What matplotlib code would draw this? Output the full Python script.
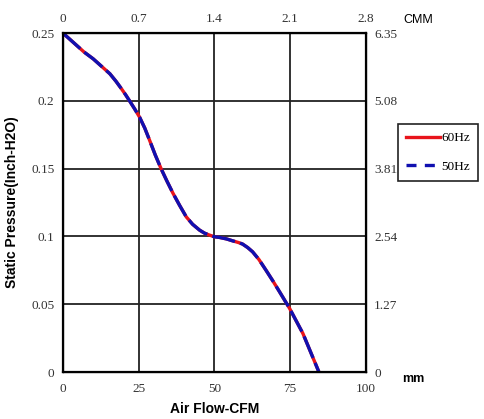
import matplotlib.pyplot as plt
from matplotlib.lines import Line2D

# fan curve (CFM, inch H2O)
cfm = [0, 4.5, 7, 10, 12.5, 15.5, 17.5, 19.3, 20.7, 22, 23.7, 25.3, 27, 28.6,
       30.5, 32.4, 34.3, 36.3, 38.5, 40.7, 42.8, 45.1, 46.7, 48.4, 50, 51.7,
       54, 56.0, 58, 59.3, 61, 62.6, 64.7, 67.0, 69.3, 71.5, 74.8, 79.2, 84.5]
pressure = [0.25, 0.241, 0.236, 0.231, 0.226, 0.220, 0.2145, 0.209, 0.2045,
            0.200, 0.194, 0.188, 0.180, 0.171, 0.160, 0.150, 0.141, 0.132,
            0.123, 0.1145, 0.109, 0.1047, 0.1025, 0.101, 0.0998, 0.0993,
            0.0982, 0.0968, 0.0955, 0.0944, 0.0918, 0.0887, 0.083, 0.0752,
            0.0672, 0.0592, 0.047, 0.0285, 0]

x_ticks = [0, 25, 50, 75, 100]
y_ticks = [0, 0.05, 0.1, 0.15, 0.2, 0.25]
cmm_labels = ['0', '0.7', '1.4', '2.1', '2.8']
mm_labels = ['0', '1.27', '2.54', '3.81', '5.08', '6.35']
y_labels = ['0', '0.05', '0.1', '0.15', '0.2', '0.25']

serif = 'Liberation Serif'
sans = 'Liberation Sans'

fig = plt.figure(figsize=(4.84, 4.19), dpi=100)
ax = fig.add_axes([0.130, 0.112, 0.626, 0.809])

ax.plot(cfm, pressure, color='#e8141b', lw=2.4, solid_capstyle='butt')
ax.plot(cfm, pressure, color='#1010b0', lw=2.4, dashes=(7, 1.6))

ax.set_xlim(0, 100)
ax.set_ylim(0, 0.25)
ax.set_xticks(x_ticks)
ax.set_yticks(y_ticks)
ax.set_xticklabels([str(t) for t in x_ticks], family=serif, fontsize=9.5, color='#333333')
ax.set_yticklabels(y_labels, family=serif, fontsize=9.5, color='#333333')
ax.tick_params(length=0)
ax.tick_params(axis='x', pad=8)
ax.tick_params(axis='y', pad=6)
ax.grid(True, color='#222222', lw=1.3)
for s in ax.spines.values():
    s.set_linewidth(1.6)

ax.set_xlabel('Air Flow-CFM', family=sans, fontweight='bold', fontsize=10, labelpad=5)
ax.set_ylabel('Static Pressure(Inch-H2O)', family=sans, fontweight='bold', fontsize=10, labelpad=9)

top = ax.twiny()
top.set_xlim(0, 2.8)
top.set_xticks([0, 0.7, 1.4, 2.1, 2.8])
top.set_xticklabels(cmm_labels, family=serif, fontsize=9.5, color='#333333')
top.tick_params(length=0, pad=6)

right = ax.twinx()
right.set_ylim(0, 6.35)
right.set_yticks([0, 1.27, 2.54, 3.81, 5.08, 6.35])
right.set_yticklabels(mm_labels, family=serif, fontsize=9.5, color='#333333')
right.tick_params(length=0, pad=6)

fig.text(0.865, 0.953, 'CMM', family=sans, fontsize=9, ha='center', va='center')
fig.text(0.853, 0.095, 'mm', family=sans, fontsize=9, fontweight='bold', ha='center', va='center')

handles = [Line2D([], [], color='#e8141b', lw=2.4),
           Line2D([], [], color='#1010b0', lw=2.4, dashes=(3, 2.5))]
leg = fig.legend(handles, ['60Hz', '50Hz'], loc='upper left',
                 bbox_to_anchor=(0.822, 0.704), prop={'family': serif, 'size': 9.5},
                 fancybox=False, framealpha=1, edgecolor='#222222',
                 handlelength=2.6, handletextpad=0.1, borderpad=0.6,
                 labelspacing=1.25, borderaxespad=0)
leg.get_frame().set_linewidth(1.2)

fig.savefig('out.png', dpi=100)
